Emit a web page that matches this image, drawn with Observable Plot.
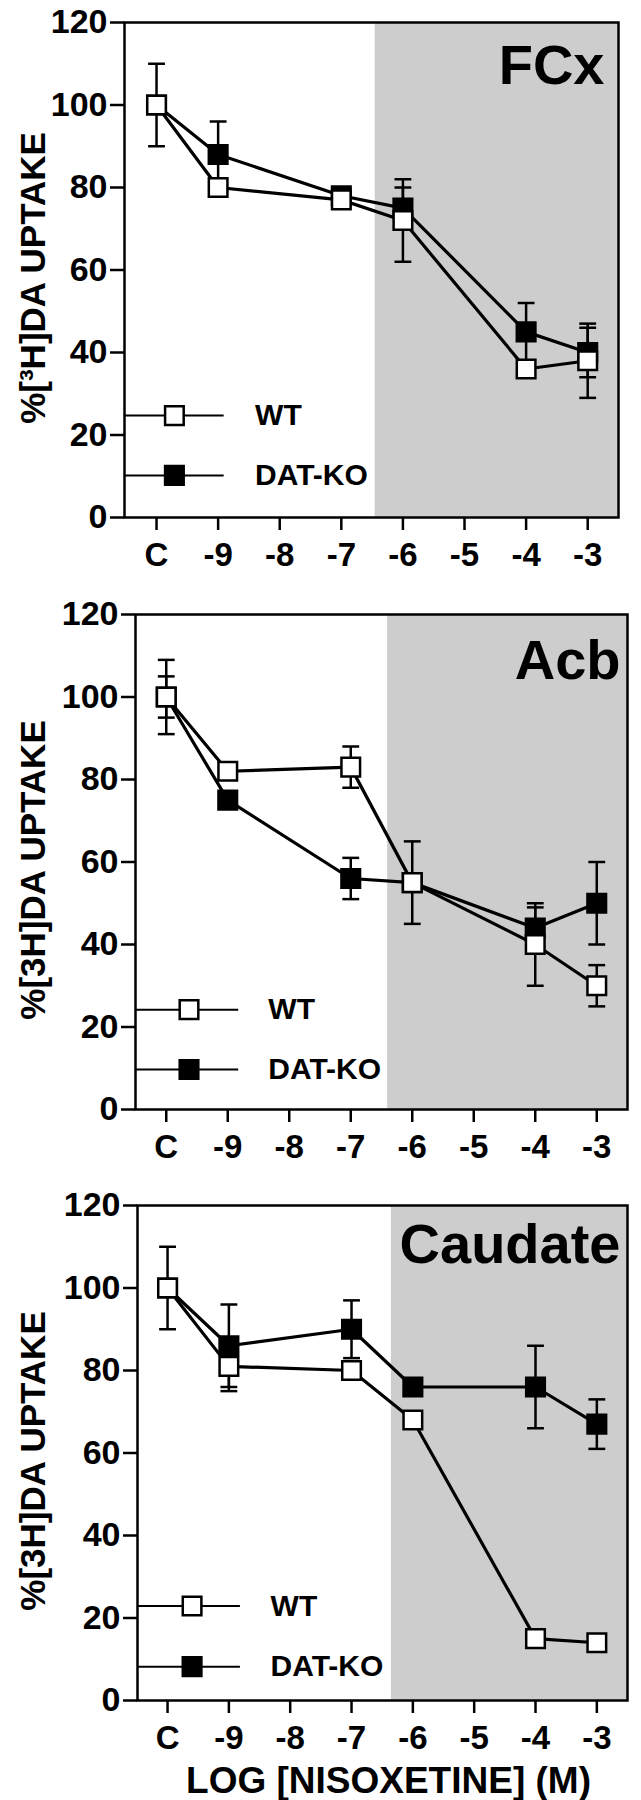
<!DOCTYPE html>
<html><head><meta charset="utf-8">
<script src="https://cdn.jsdelivr.net/npm/d3@7"></script>
<script src="https://cdn.jsdelivr.net/npm/@observablehq/plot@0.6"></script>
<style>
body{margin:0;background:#fff;}
#chart svg{display:block;}
</style></head><body><div id="chart"></div>
<script>
// x positions of the doses on the category axis (C, -9, -7, -6, -4, -3)
const doses = [0, 1, 3, 4, 6, 7];
const tickPositions = [0, 1, 2, 3, 4, 5, 6, 7];
const tickLabels = ["C", "-9", "-8", "-7", "-6", "-5", "-4", "-3"];
const yTicks = [0, 20, 40, 60, 80, 100, 120];

// FCx
const fcxWT = [100, 80, 77, 72, 36, 38];
const fcxWTErr = [10, 0, 0, 10, 0, 9];
const fcxKO = [100, 88, 78, 75, 45, 40];
const fcxKOErr = [0, 8, 0, 5, 7, 6];

// Acb
const acbWT = [100, 82, 83, 55, 40, 30];
const acbWTErr = [9, 0, 5, 10, 10, 5];
const acbKO = [100, 75, 56, 55, 44, 50];
const acbKOErr = [5, 0, 5, 0, 5, 10];

// Caudate
const caudWT = [100, 81, 80, 68, 15, 14];
const caudWTErr = [10, 6, 0, 0, 0, 0];
const caudKO = [100, 86, 90, 76, 76, 67];
const caudKOErr = [0, 10, 7, 0, 10, 6];

const seriesNames = ["WT", "DAT-KO"];
const panelTitles = ["FCx", "Acb", "Caudate"];
const yLabels = ["%[\u00b3H]DA UPTAKE", "%[3H]DA UPTAKE", "%[3H]DA UPTAKE"];
const xTitle = "LOG [NISOXETINE] (M)";

const FONT = "'Liberation Sans', Arial, Helvetica, sans-serif";
const capSymbol = {draw(ctx, size) { const h = Math.sqrt(size) / 2; ctx.moveTo(-h, 0); ctx.lineTo(h, 0); }};

function panel(o) {
  const rows = [];
  doses.forEach((x, i) => {
    rows.push({g: "WT", x, y: o.wt[i], e: o.wtErr[i]});
    rows.push({g: "KO", x, y: o.ko[i], e: o.koErr[i]});
  });
  const errRows = rows.filter(d => d.e > 0);
  const wtRows = rows.filter(d => d.g === "WT");
  const koRows = rows.filter(d => d.g === "KO");
  const xMax = 7.5;
  const legend = [
    {name: seriesNames[0], y: o.legendY[0], fill: "white"},
    {name: seriesNames[1], y: o.legendY[1], fill: "black"}
  ];
  const marks = [
    Plot.rect([{x1: o.shadeStart, x2: xMax}], {x1: "x1", x2: "x2", y1: 0, y2: 120, fill: "#cdcdcd"}),
    Plot.ruleX(errRows, {x: "x", y1: d => d.y - d.e, y2: d => d.y + d.e, stroke: "black", strokeWidth: 2.5}),
    Plot.dot(errRows, {x: "x", y: d => d.y + d.e, symbol: capSymbol, r: 9.5, stroke: "black", strokeWidth: 2.5, fill: "none"}),
    Plot.dot(errRows, {x: "x", y: d => d.y - d.e, symbol: capSymbol, r: 9.5, stroke: "black", strokeWidth: 2.5, fill: "none"}),
    Plot.line(wtRows, {x: "x", y: "y", stroke: "black", strokeWidth: 3.2}),
    Plot.line(koRows, {x: "x", y: "y", stroke: "black", strokeWidth: 3.2}),
    Plot.dot(koRows, {x: "x", y: "y", symbol: "square", r: 10.5, fill: "black", stroke: "black", strokeWidth: 2.5}),
    Plot.dot(wtRows, {x: "x", y: "y", symbol: "square", r: 10.5, fill: "white", stroke: "black", strokeWidth: 2.5}),
    // legend
    Plot.link(legend, {x1: o.xMin, x2: o.legLineEnd, y1: "y", y2: "y", stroke: "black", strokeWidth: 2}),
    Plot.dot(legend, {x: o.legMarker, y: "y", symbol: "square", r: 10.5, fill: "fill", stroke: "black", strokeWidth: 2.5}),
    Plot.text(legend, {x: o.legText, y: "y", text: "name", textAnchor: "start", lineAnchor: "middle", fontSize: 30, fontWeight: "bold", fill: "black"}),
    // title
    Plot.text([o.title], {text: d => d, frameAnchor: "top-right", dx: o.titleDx, dy: o.titleDy, textAnchor: "end", lineAnchor: "bottom", fontSize: 56, fontWeight: "bold", fill: "black"}),
    // y label
    Plot.text([o.yLabel], {text: d => d, frameAnchor: "left", dx: 44 - o.ml, dy: 8, rotate: -90, textAnchor: "middle", lineAnchor: "bottom", fontSize: 35, fontWeight: "bold", fill: "black"}),
    Plot.frame({stroke: "black", strokeWidth: 2.5}),
    Plot.axisY(yTicks, {tickSize: 14, tickPadding: 3, fontSize: 34, fontWeight: "bold", strokeWidth: 2.5, label: null, fill: "black"}),
    Plot.axisX(tickPositions, {tickFormat: d => tickLabels[d], tickSize: 13, tickPadding: 12, fontSize: 33, fontWeight: "bold", strokeWidth: 2.5, label: null, fill: "black"})
  ];
  if (o.xTitle) {
    marks.push(Plot.text([o.xTitle], {text: d => d, frameAnchor: "bottom", dx: 6, dy: 92, lineAnchor: "bottom", fontSize: 37, fontWeight: "bold", fill: "black"}));
  }
  return Plot.plot({
    width: 641,
    height: o.height,
    marginTop: o.mt, marginBottom: o.mb, marginLeft: o.ml, marginRight: o.mr,
    x: {domain: [o.xMin, xMax]},
    y: {domain: [0, 120]},
    style: {fontFamily: FONT, background: "white", color: "black", overflow: "visible"},
    marks
  });
}

const chart = document.getElementById("chart");
chart.appendChild(panel({
  title: panelTitles[0], titleDx: -14, titleDy: 61, yLabel: yLabels[0],
  wt: fcxWT, wtErr: fcxWTErr, ko: fcxKO, koErr: fcxKOErr,
  legendY: [24.7, 10.2], legLineEnd: 1.09, legMarker: 0.29, legText: 1.6,
  shadeStart: 3.55, xMin: -0.52,
  height: 580, mt: 22, mb: 63, ml: 124, mr: 23
}));
chart.appendChild(panel({
  title: panelTitles[1], titleDx: -7, titleDy: 64, yLabel: yLabels[1],
  wt: acbWT, wtErr: acbWTErr, ko: acbKO, koErr: acbKOErr,
  legendY: [24.2, 9.7], legLineEnd: 1.17, legMarker: 0.37, legText: 1.66,
  shadeStart: 3.6, xMin: -0.5,
  height: 580, mt: 34, mb: 51, ml: 135, mr: 14
}));
chart.appendChild(panel({
  title: panelTitles[2], titleDx: -7, titleDy: 57, yLabel: yLabels[2],
  wt: caudWT, wtErr: caudWTErr, ko: caudKO, koErr: caudKOErr,
  legendY: [22.9, 8.2], legLineEnd: 1.18, legMarker: 0.4, legText: 1.68,
  shadeStart: 3.65, xMin: -0.49,
  height: 640, mt: 45, mb: 100, ml: 137, mr: 14, xTitle
}));
</script></body></html>
